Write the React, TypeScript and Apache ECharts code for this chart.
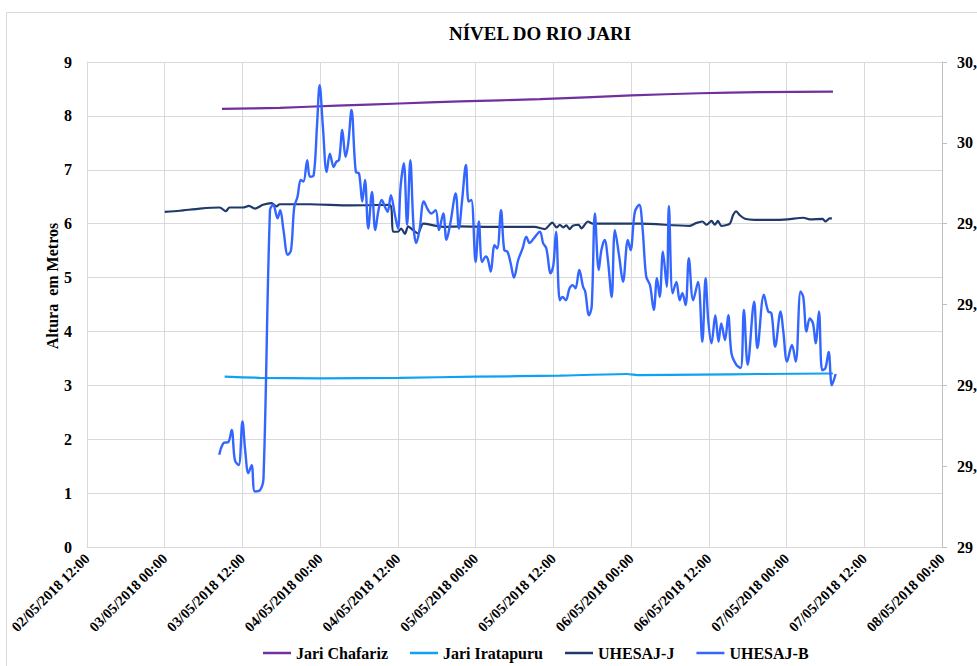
import React, { useEffect, useRef } from "react";
import * as echarts from "echarts";

const YEAR = 2018;
const TITLE = "NÍVEL DO RIO JARI";
const Y_NAME = "Altura  em Metros";
const SERIES_NAMES = ["Jari Chafariz", "Jari Iratapuru", "UHESAJ-J", "UHESAJ-B"];
const SERIES_COLORS = ["#7030A0", "#0FA2F2", "#1F3A68", "#3366FF"];

const chafarizTimes = ["03/05 08:50", "03/05 17:45", "04/05 02:35", "04/05 12:15", "04/05 21:35", "05/05 09:55", "06/05 00:05", "06/05 10:35", "06/05 19:50", "07/05 07:10"];
const chafarizValues = [8.13, 8.15, 8.19, 8.23, 8.27, 8.31, 8.38, 8.42, 8.44, 8.45];

const iratapuruTimes = ["03/05 09:15", "03/05 14:40", "03/05 23:55", "04/05 12:15", "05/05 00:00", "05/05 13:00", "05/05 23:20", "06/05 01:20", "06/05 10:35", "06/05 19:50", "07/05 07:10"];
const iratapuruValues = [3.16, 3.14, 3.13, 3.14, 3.16, 3.18, 3.21, 3.19, 3.2, 3.21, 3.22];

const jTimes = ["03/05 00:00", "03/05 02:20", "03/05 05:25", "03/05 08:30", "03/05 09:25", "03/05 10:00", "03/05 12:05", "03/05 13:00", "03/05 13:55", "03/05 15:10", "03/05 16:30", "03/05 17:15", "03/05 17:45", "03/05 22:25", "04/05 04:35", "04/05 10:45", "04/05 11:15", "04/05 12:00", "04/05 12:30", "04/05 13:05", "04/05 13:35", "04/05 14:20", "04/05 15:05", "04/05 15:55", "04/05 17:55", "04/05 19:00", "04/05 21:35", "05/05 02:10", "05/05 09:05", "05/05 10:40", "05/05 11:50", "05/05 12:30", "05/05 13:00", "05/05 13:30", "05/05 14:00", "05/05 14:30", "05/05 15:00", "05/05 15:55", "05/05 16:20", "05/05 17:20", "05/05 18:05", "06/05 01:20", "06/05 09:05", "06/05 10:00", "06/05 11:00", "06/05 11:40", "06/05 12:25", "06/05 12:55", "06/05 13:25", "06/05 13:55", "06/05 15:15", "06/05 15:45", "06/05 16:15", "06/05 16:45", "06/05 17:35", "06/05 19:05", "06/05 21:40", "07/05 00:10", "07/05 02:35", "07/05 03:35", "07/05 05:35", "07/05 06:00", "07/05 06:40", "07/05 07:00"];
const jValues = [6.22, 6.24, 6.28, 6.3, 6.23, 6.3, 6.3, 6.33, 6.28, 6.35, 6.38, 6.32, 6.36, 6.36, 6.34, 6.35, 5.85, 5.85, 5.91, 5.81, 5.95, 5.88, 5.82, 6.0, 5.96, 5.94, 5.95, 5.94, 5.94, 5.9, 6.02, 5.93, 5.98, 5.93, 5.97, 5.9, 5.96, 5.98, 5.91, 6.04, 6.0, 6.0, 5.96, 6.01, 6.04, 5.98, 6.05, 5.98, 6.05, 5.96, 6.0, 6.16, 6.23, 6.16, 6.09, 6.07, 6.07, 6.08, 6.11, 6.08, 6.09, 6.04, 6.1, 6.1];

const bTimes = [
  "03/05 08:25", "03/05 09:05", "03/05 09:50", "03/05 10:20", "03/05 10:50", "03/05 11:25", "03/05 12:00", "03/05 12:25", "03/05 12:55", "03/05 13:25",
  "03/05 13:55", "03/05 14:45", "03/05 15:15", "03/05 16:15", "03/05 16:45", "03/05 17:25", "03/05 17:50", "03/05 18:20", "03/05 19:00", "03/05 19:30",
  "03/05 20:00", "03/05 20:30", "03/05 21:00", "03/05 21:25", "03/05 22:00", "03/05 22:25", "03/05 23:00", "03/05 23:30", "03/05 23:55", "04/05 00:25",
  "04/05 01:00", "04/05 01:30", "04/05 02:05", "04/05 02:30", "04/05 02:55", "04/05 03:25", "04/05 03:55", "04/05 04:20", "04/05 04:50", "04/05 05:30",
  "04/05 06:00", "04/05 06:30", "04/05 06:55", "04/05 07:25", "04/05 08:00", "04/05 08:30", "04/05 09:00", "04/05 09:30", "04/05 10:00", "04/05 10:25",
  "04/05 10:55", "04/05 11:30", "04/05 12:00", "04/05 12:25", "04/05 12:55", "04/05 13:25", "04/05 13:55", "04/05 14:25", "04/05 14:50", "04/05 15:20",
  "04/05 16:00", "04/05 16:40", "04/05 17:10", "04/05 17:50", "04/05 18:20", "04/05 19:00", "04/05 19:30", "04/05 20:05", "04/05 20:55", "04/05 21:25",
  "04/05 21:55", "04/05 22:30", "04/05 22:55", "04/05 23:20", "05/05 00:00", "05/05 00:30", "05/05 01:00", "05/05 01:35", "05/05 01:55", "05/05 02:20",
  "05/05 02:55", "05/05 03:20", "05/05 03:55", "05/05 04:25", "05/05 04:55", "05/05 05:25", "05/05 05:55", "05/05 06:35", "05/05 07:15", "05/05 07:50",
  "05/05 08:20", "05/05 09:00", "05/05 09:55", "05/05 10:25", "05/05 10:55", "05/05 11:35", "05/05 12:00", "05/05 12:25", "05/05 13:00", "05/05 13:25",
  "05/05 13:55", "05/05 14:30", "05/05 15:00", "05/05 15:25", "05/05 16:00", "05/05 16:35", "05/05 16:55", "05/05 17:30", "05/05 17:55", "05/05 18:25",
  "05/05 19:00", "05/05 19:25", "05/05 19:55", "05/05 20:25", "05/05 21:00", "05/05 21:30", "05/05 22:10", "05/05 22:45", "05/05 23:30", "05/05 23:55",
  "06/05 00:35", "06/05 01:15", "06/05 01:45", "06/05 02:20", "06/05 02:55", "06/05 03:30", "06/05 04:00", "06/05 04:25", "06/05 04:55", "06/05 05:30",
  "06/05 05:50", "06/05 06:25", "06/05 07:00", "06/05 07:30", "06/05 07:55", "06/05 08:25", "06/05 08:55", "06/05 09:35", "06/05 10:20", "06/05 11:00",
  "06/05 11:30", "06/05 11:55", "06/05 12:25", "06/05 13:00", "06/05 13:30", "06/05 13:55", "06/05 14:30", "06/05 15:00", "06/05 15:30", "06/05 16:15",
  "06/05 16:55", "06/05 17:25", "06/05 18:00", "06/05 19:00", "06/05 19:30", "06/05 20:30", "06/05 21:10", "06/05 21:40", "06/05 22:15", "06/05 23:05",
  "06/05 23:30", "07/05 00:05", "07/05 00:50", "07/05 01:25", "07/05 02:10", "07/05 02:35", "07/05 03:05", "07/05 03:35", "07/05 04:05", "07/05 04:30",
  "07/05 05:00", "07/05 05:30", "07/05 06:00", "07/05 06:30", "07/05 07:00", "07/05 07:35"
];
const bValues = [
  1.71, 1.93, 1.95, 2.17, 1.61, 1.52, 2.33, 1.8, 1.37, 1.52,
  1.03, 1.06, 1.28, 6.25, 6.35, 6.1, 6.25, 5.88, 5.42, 5.51,
  6.31, 6.5, 6.81, 6.78, 7.18, 6.87, 6.9, 7.8, 8.57, 7.8,
  6.96, 7.3, 7.05, 7.15, 7.18, 7.74, 7.24, 7.49, 8.11, 6.96,
  6.93, 6.41, 6.81, 5.91, 6.59, 5.88, 6.25, 6.44, 6.31, 6.22,
  6.53, 6.19, 5.91, 6.69, 7.12, 5.98, 7.18, 5.94, 5.64, 5.88,
  6.41, 6.25, 6.19, 6.25, 5.88, 6.19, 5.7, 6.0, 6.56, 5.91,
  6.44, 7.09, 6.41, 6.44, 5.29, 6.04, 5.29, 5.39, 5.33, 5.11,
  5.6, 5.54, 6.25, 5.51, 5.48, 5.26, 5.0, 5.33, 5.54, 5.76,
  5.64, 5.73, 5.85, 5.64, 5.54, 5.08, 5.23, 5.85, 4.58, 4.64,
  4.58, 4.8, 4.86, 4.8, 5.14, 4.83, 4.74, 4.3, 4.46, 6.19,
  5.14, 5.51, 5.7, 5.33, 4.64, 5.88, 5.39, 4.92, 5.7, 5.51,
  6.22, 6.35, 5.94, 5.02, 4.86, 4.4, 4.99, 4.64, 5.48, 4.83,
  6.33, 4.71, 4.92, 4.58, 4.71, 4.49, 5.36, 4.58, 4.92, 3.81,
  4.99, 4.2, 3.78, 4.3, 3.81, 4.15, 3.84, 4.3, 3.59, 3.38,
  3.32, 4.4, 3.38, 4.55, 3.69, 4.68, 4.37, 4.34, 3.72, 4.37,
  4.0, 3.44, 3.75, 3.44, 4.74, 4.64, 4.0, 4.24, 4.15, 3.78,
  4.37, 3.28, 3.32, 3.62, 3.0, 3.21
];

const X_MIN = "02/05 12:00";
const X_MAX = "08/05 00:00";
const X_STEP_HOURS = 12;

const LEFT_MIN = 0;
const LEFT_MAX = 9;
const LEFT_STEP = 1;
const RIGHT_MIN = 29;
const RIGHT_MAX = 30.2;
const RIGHT_STEP = 0.2;

const FONT = '"Liberation Serif", "Times New Roman", serif';

function toMs(s: string): number {
  const [d, t] = s.split(" ");
  const [dd, mm] = d.split("/").map(Number);
  const [hh, mi] = t.split(":").map(Number);
  return Date.UTC(YEAR, mm - 1, dd, hh, mi);
}
function pairs(times: string[], values: number[]) {
  return times.map((t, i) => [toMs(t), values[i]]);
}
const pad = (n: number) => String(n).padStart(2, "0");
function fmtDate(ms: number): string {
  const d = new Date(ms);
  return `${pad(d.getUTCDate())}/${pad(d.getUTCMonth() + 1)}/${d.getUTCFullYear()} ${pad(d.getUTCHours())}:${pad(d.getUTCMinutes())}`;
}

export default function App() {
  const ref = useRef<HTMLDivElement>(null);
  useEffect(() => {
    if (!ref.current) return;
    const chart = echarts.init(ref.current, null, { renderer: "svg" });
    const datasets = [
      pairs(chafarizTimes, chafarizValues),
      pairs(iratapuruTimes, iratapuruValues),
      pairs(jTimes, jValues),
      pairs(bTimes, bValues),
    ];
    const widths = [2.2, 2.2, 2.2, 2.4];
    const smooth = [0.2, 0.2, 0.25, 0.35];
    chart.setOption({
      animation: false,
      backgroundColor: "#ffffff",
      title: {
        text: TITLE,
        left: 535,
        top: 19,
        textAlign: "center",
        textStyle: { fontFamily: FONT, fontWeight: "bold", fontSize: 19, color: "#000" },
      },
      legend: {
        data: SERIES_NAMES,
        left: 258,
        top: 640,
        icon: "rect",
        itemWidth: 28,
        itemHeight: 2.5,
        itemGap: 22,
        textStyle: { fontFamily: FONT, fontWeight: "bold", fontSize: 16, color: "#000" },
      },
      grid: {
        left: 87,
        right: 35,
        top: 62,
        bottom: 119,
        containLabel: false,
        outerBoundsMode: "none",
      },
      xAxis: {
        type: "value",
        min: toMs(X_MIN),
        max: toMs(X_MAX),
        interval: X_STEP_HOURS * 3600 * 1000,
        axisLine: { show: true, lineStyle: { color: "#d9d9d9", width: 1 } },
        axisTick: { show: false },
        splitLine: { show: true, lineStyle: { color: "#d9d9d9", width: 1 } },
        axisLabel: {
          rotate: 45,
          margin: 9,
          formatter: (v: number) => fmtDate(v),
          fontFamily: FONT,
          fontWeight: "bold",
          fontSize: 14.5,
          color: "#000",
          showMinLabel: true,
          showMaxLabel: true,
        },
      },
      yAxis: [
        {
          type: "value",
          min: LEFT_MIN,
          max: LEFT_MAX,
          interval: LEFT_STEP,
          axisLine: { show: true, lineStyle: { color: "#d9d9d9" } },
          axisTick: { show: false },
          splitLine: { show: true, lineStyle: { color: "#d9d9d9", width: 1 } },
          axisLabel: { margin: 15, fontFamily: FONT, fontWeight: "bold", fontSize: 16, color: "#000" },
        },
        {
          type: "value",
          position: "right",
          min: RIGHT_MIN,
          max: RIGHT_MAX,
          interval: RIGHT_STEP,
          axisLine: { show: true, lineStyle: { color: "#bfbfbf" } },
          axisTick: { show: true, inside: false, length: 5, lineStyle: { color: "#bfbfbf" } },
          splitLine: { show: false },
          axisLabel: {
            margin: 15,
            formatter: (v: number) => String(Math.round(v * 10) / 10).replace(".", ","),
            fontFamily: FONT,
            fontWeight: "bold",
            fontSize: 16,
            color: "#000",
          },
        },
      ],
      graphic: [
        {
          type: "rect",
          shape: { x: 6.5, y: 12.5, width: 1100, height: 800 },
          style: { fill: "none", stroke: "#d9d9d9", lineWidth: 1 },
          silent: true,
        },
        {
          type: "text",
          x: 52,
          y: 286,
          rotation: Math.PI / 2,
          style: {
            text: Y_NAME,
            font: `bold 16px ${FONT}`,
            fill: "#000",
            align: "center",
            verticalAlign: "middle",
            textAlign: "center",
            textVerticalAlign: "middle",
          },
        },
      ],
      series: SERIES_NAMES.map((name, i) => ({
        name,
        type: "line",
        yAxisIndex: 0,
        data: datasets[i],
        showSymbol: false,
        symbol: "none",
        smooth: smooth[i],
        color: SERIES_COLORS[i],
        lineStyle: { color: SERIES_COLORS[i], width: widths[i] },
        z: 2 + i,
      })),
    });
    return () => chart.dispose();
  }, []);
  return (
    <div
      ref={ref}
      style={{ position: "absolute", left: 0, top: 0, width: 977, height: 666, background: "#fff" }}
    />
  );
}
